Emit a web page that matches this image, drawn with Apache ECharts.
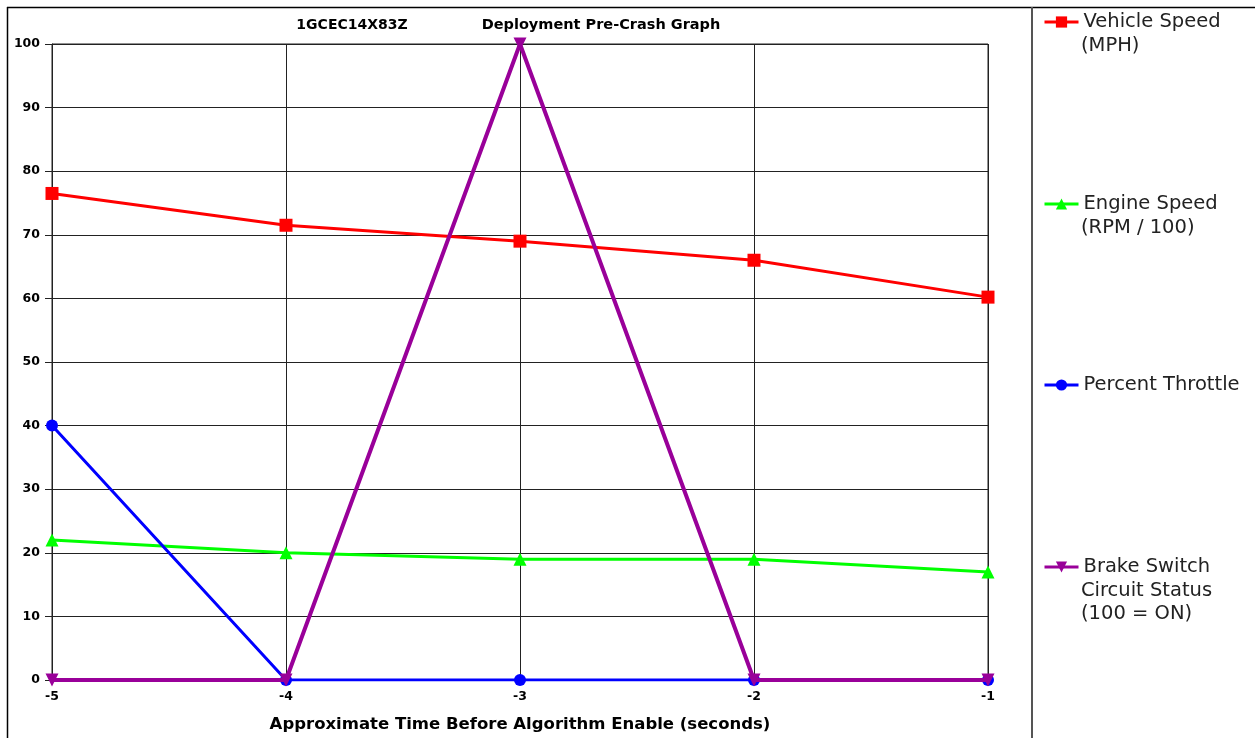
<!DOCTYPE html>
<html><head><meta charset="utf-8">
<script src="https://cdn.jsdelivr.net/npm/echarts@6/dist/echarts.min.js"></script>
<style>html,body{margin:0;padding:0;background:#fff}#c{width:1255px;height:738px}</style>
</head><body><div id="c"></div>
<script>
var times = [-5, -4, -3, -2, -1];
var vehicleSpeed = [76.5, 71.5, 69, 66, 60.2];
var engineSpeed = [22, 20, 19, 19, 17];
var throttle = [40, 0, 0, 0, 0];
var brake = [0, 0, 100, 0, 0];
var seriesNames = ['Vehicle Speed', 'Engine Speed', 'Percent Throttle', 'Brake Switch'];
var legendSub = ['(MPH)', '(RPM / 100)', '', 'Circuit Status\n(100 = ON)'];
var legendTops = [7, 189, 370, 552];

function pairs(v){ return times.map(function(t,i){ return [t, v[i]]; }); }

var chart = echarts.init(document.getElementById('c'), null, {renderer:'canvas'});
var colors = ['#ff0000', '#00ff00', '#0000ff', '#990099'];
var symbols = ['rect', 'triangle', 'circle', 'path://M0,0 L10,0 L5,10 Z'];
var sizes = [13, 13, 12, 13];
var widths = [3, 3, 3, 4];
var data = [vehicleSpeed, engineSpeed, throttle, brake];
var legFont = 'DejaVu Sans';
var boldFont = 'DejaVu Sans';

var series = [];
for (var k = 0; k < 4; k++) {
  series.push({
    name: seriesNames[k], type: 'line', data: pairs(data[k]),
    symbol: symbols[k], symbolSize: sizes[k], showAllSymbol: true,
    itemStyle: {color: colors[k]}, lineStyle: {color: colors[k], width: widths[k]},
    z: 2 + k, animation: false
  });
}
var legends = [];
var graphics = [
  {type:'line', shape:{x1:7,y1:7.5,x2:1255,y2:7.5}, style:{stroke:'#000', lineWidth:1.5}},
  {type:'line', shape:{x1:7.5,y1:7,x2:7.5,y2:738}, style:{stroke:'#000', lineWidth:1.5}},
  {type:'line', shape:{x1:1032,y1:7,x2:1032,y2:738}, style:{stroke:'#555', lineWidth:2}}
];
for (var k = 0; k < 4; k++) {
  legends.push({
    data: [seriesNames[k]], left: 1038, top: legendTops[k], orient: 'vertical',
    itemWidth: 34, itemHeight: 14, itemGap: 0,
    lineStyle: {width: 3},
    textStyle: {fontFamily: legFont, fontSize: 19.5, color: '#222'},
    selectedMode: false
  });
  if (legendSub[k]) {
    graphics.push({type:'text', left: 1081, top: legendTops[k] + 27,
      style:{text: legendSub[k], font: '19.5px ' + legFont, fill:'#222', lineHeight: 23}});
  }
}

chart.setOption({
  animation: false,
  title: [
    {text: '1GCEC14X83Z', left: 347, top: 13, textAlign: 'center',
     textStyle:{fontFamily:boldFont, fontSize:14, fontWeight:'bold', color:'#000'}},
    {text: 'Deployment Pre-Crash Graph', left: 596, top: 13, textAlign: 'center',
     textStyle:{fontFamily:boldFont, fontSize:14.5, fontWeight:'bold', color:'#000'}}
  ],
  legend: legends,
  grid: {left: 52, right: 267, top: 44, bottom: 53, show: true, borderColor: '#222', borderWidth: 1},
  xAxis: {
    type: 'value', min: -5, max: -1, interval: 1,
    name: 'Approximate Time Before Algorithm Enable (seconds)', nameLocation: 'middle', nameGap: 36,
    nameTextStyle: {fontFamily:boldFont, fontSize:16.5, fontWeight:'bold', color:'#000'},
    axisLine: {show: true, onZero: false, lineStyle: {color:'#222', width:1}},
    axisTick: {show: false},
    axisLabel: {fontFamily:boldFont, fontSize:12.5, fontWeight:'bold', color:'#000', margin: 10},
    splitLine: {show: true, lineStyle: {color:'#222', width:1}}
  },
  yAxis: {
    type: 'value', min: 0, max: 100, interval: 10,
    axisLine: {show: true, lineStyle: {color:'#222', width:1}},
    axisTick: {show: true, inside: false, length: 7, lineStyle: {color:'#222'}},
    axisLabel: {fontFamily:boldFont, fontSize:12.5, fontWeight:'bold', color:'#000', margin: 12},
    splitLine: {show: true, lineStyle: {color:'#222', width:1}}
  },
  graphic: graphics,
  series: series
});
</script>
</body></html>
